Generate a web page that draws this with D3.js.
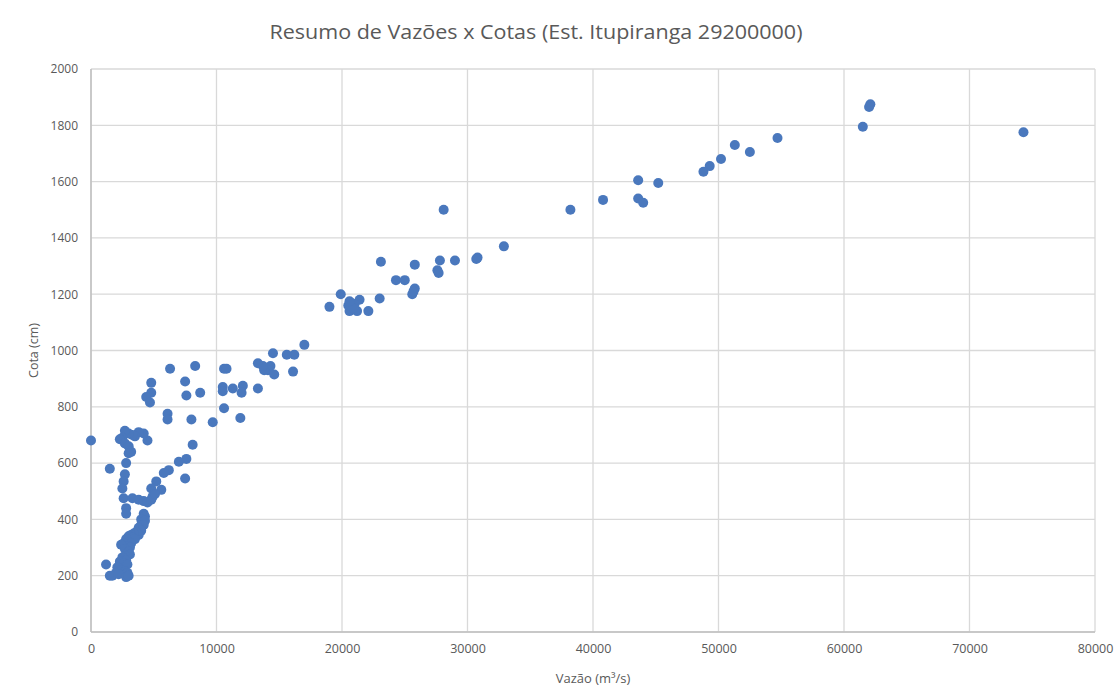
<!DOCTYPE html>
<html><head><meta charset="utf-8">
<script src="https://cdn.jsdelivr.net/npm/d3@7"></script>
<style>body{margin:0;background:#fff;} text{font-family:"Open Sans","Liberation Sans",sans-serif;}</style>
</head><body>
<svg id="c" width="1116" height="688"></svg>
<script>
const vazao = [74300,62100,62000,61500,54700,52500,51300,50200,49300,48800,45200,43600,43600,44000,40800,38200,28100,
32900,30800,30700,29000,27800,27600,27700,25800,25800,25600,25700,24300,25000,23100,23000,22100,21400,21200,
20700,20600,21000,20500,20900,20600,19900,19000,17000,16200,15600,16100,14500,14300,14100,14600,13800,13700,
13300,13300,12100,12000,11900,11300,10600,10800,10500,10500,10600,9700,8700,8300,8000,8100,7600,7500,6300,6100,6100,
7600,7500,7000,6200,5800,5600,5200,4800,4900,4800,4800,4400,4700,4500,4200,3800,3500,3300,3000,2700,2500,2300,2700,
3000,3200,3000,0,1500,2800,2700,2600,2500,2600,2800,2800,3300,3800,4200,4500,4800,5100,
4200,4300,4000,4300,4000,4200,3800,4000,3600,3800,3400,3200,3000,3300,3500,2800,3000,3200,2600,2900,3100,2400,2700,
3000,3100,2700,2500,2800,2300,2600,2900,1200,2100,2400,2700,2900,2000,1500,1700,2200,2800,3000];
const cota = [1775,1875,1865,1795,1755,1705,1730,1680,1655,1635,1595,1605,1540,1525,1535,1500,1500,
1370,1330,1325,1320,1320,1285,1275,1305,1220,1200,1210,1250,1250,1315,1185,1140,1180,1140,
1170,1140,1165,1160,1150,1175,1200,1155,1020,985,985,925,990,945,930,915,930,945,
955,865,875,850,760,865,935,935,870,855,795,745,850,945,755,665,840,890,935,775,755,
615,545,605,575,565,505,535,510,480,885,850,835,815,680,705,710,695,700,705,715,690,685,670,
660,640,635,680,580,600,560,535,510,475,440,420,475,470,465,460,470,490,
420,410,400,395,380,380,370,360,355,345,350,345,340,335,330,330,320,315,315,305,300,310,295,
285,275,270,265,255,250,245,240,240,230,220,215,210,210,200,200,205,195,200];
const xTicks = [0,10000,20000,30000,40000,50000,60000,70000,80000];
const yTicks = [0,200,400,600,800,1000,1200,1400,1600,1800,2000];
const title = "Resumo de Vazões x Cotas (Est. Itupiranga 29200000)";

const svg = d3.select("#c");
const L=91,R=1095,T=69,B=632;
const x = d3.scaleLinear().domain([0,80000]).range([L,R]);
const y = d3.scaleLinear().domain([0,2000]).range([B,T]);
const grid="#d9d9d9", txt="#595959";

svg.append("g").selectAll("line").data(yTicks).join("line")
  .attr("x1",L).attr("x2",R).attr("y1",d=>y(d)).attr("y2",d=>y(d))
  .attr("stroke",grid).attr("stroke-width",1.3);
svg.append("g").selectAll("line").data(xTicks).join("line")
  .attr("y1",T).attr("y2",B).attr("x1",d=>x(d)).attr("x2",d=>x(d))
  .attr("stroke",grid).attr("stroke-width",1.3);
svg.append("line").attr("x1",L).attr("x2",R).attr("y1",B).attr("y2",B).attr("stroke","#bfbfbf").attr("stroke-width",1.5);
svg.append("line").attr("x1",L).attr("x2",L).attr("y1",T).attr("y2",B).attr("stroke","#bfbfbf").attr("stroke-width",1.5);

const yAx = d3.axisLeft(y).tickValues(yTicks).tickSize(0).tickPadding(13).tickFormat(d3.format("d"));
const gy = svg.append("g").attr("transform",`translate(${L},0)`).call(yAx);
gy.select(".domain").remove();
gy.selectAll("text").attr("fill",txt).attr("font-size",12);
const xAx = d3.axisBottom(x).tickValues(xTicks).tickSize(0).tickPadding(12).tickFormat(d3.format("d"));
const gx = svg.append("g").attr("transform",`translate(0,${B})`).call(xAx);
gx.select(".domain").remove();
gx.selectAll("text").attr("fill",txt).attr("font-size",12.5);

const pts = vazao.map((v,i)=>({v,c:cota[i]}));
svg.append("g").selectAll("circle").data(pts).join("circle")
  .attr("cx",d=>x(d.v)).attr("cy",d=>y(d.c)).attr("r",5)
  .attr("fill","#4a78bd");

svg.append("text").attr("x",536).attr("y",39).attr("text-anchor","middle")
  .attr("font-size",20.5).attr("fill",txt).attr("textLength",533).attr("lengthAdjust","spacingAndGlyphs").text(title);
svg.append("text").attr("x",(L+R)/2).attr("y",683).attr("text-anchor","middle")
  .attr("font-size",13).attr("fill",txt).text("Vazão (m³/s)");
svg.append("text").attr("transform",`translate(38,${(T+B)/2}) rotate(-90)`).attr("text-anchor","middle")
  .attr("font-size",12.5).attr("fill",txt).text("Cota (cm)");
</script>
</body></html>
